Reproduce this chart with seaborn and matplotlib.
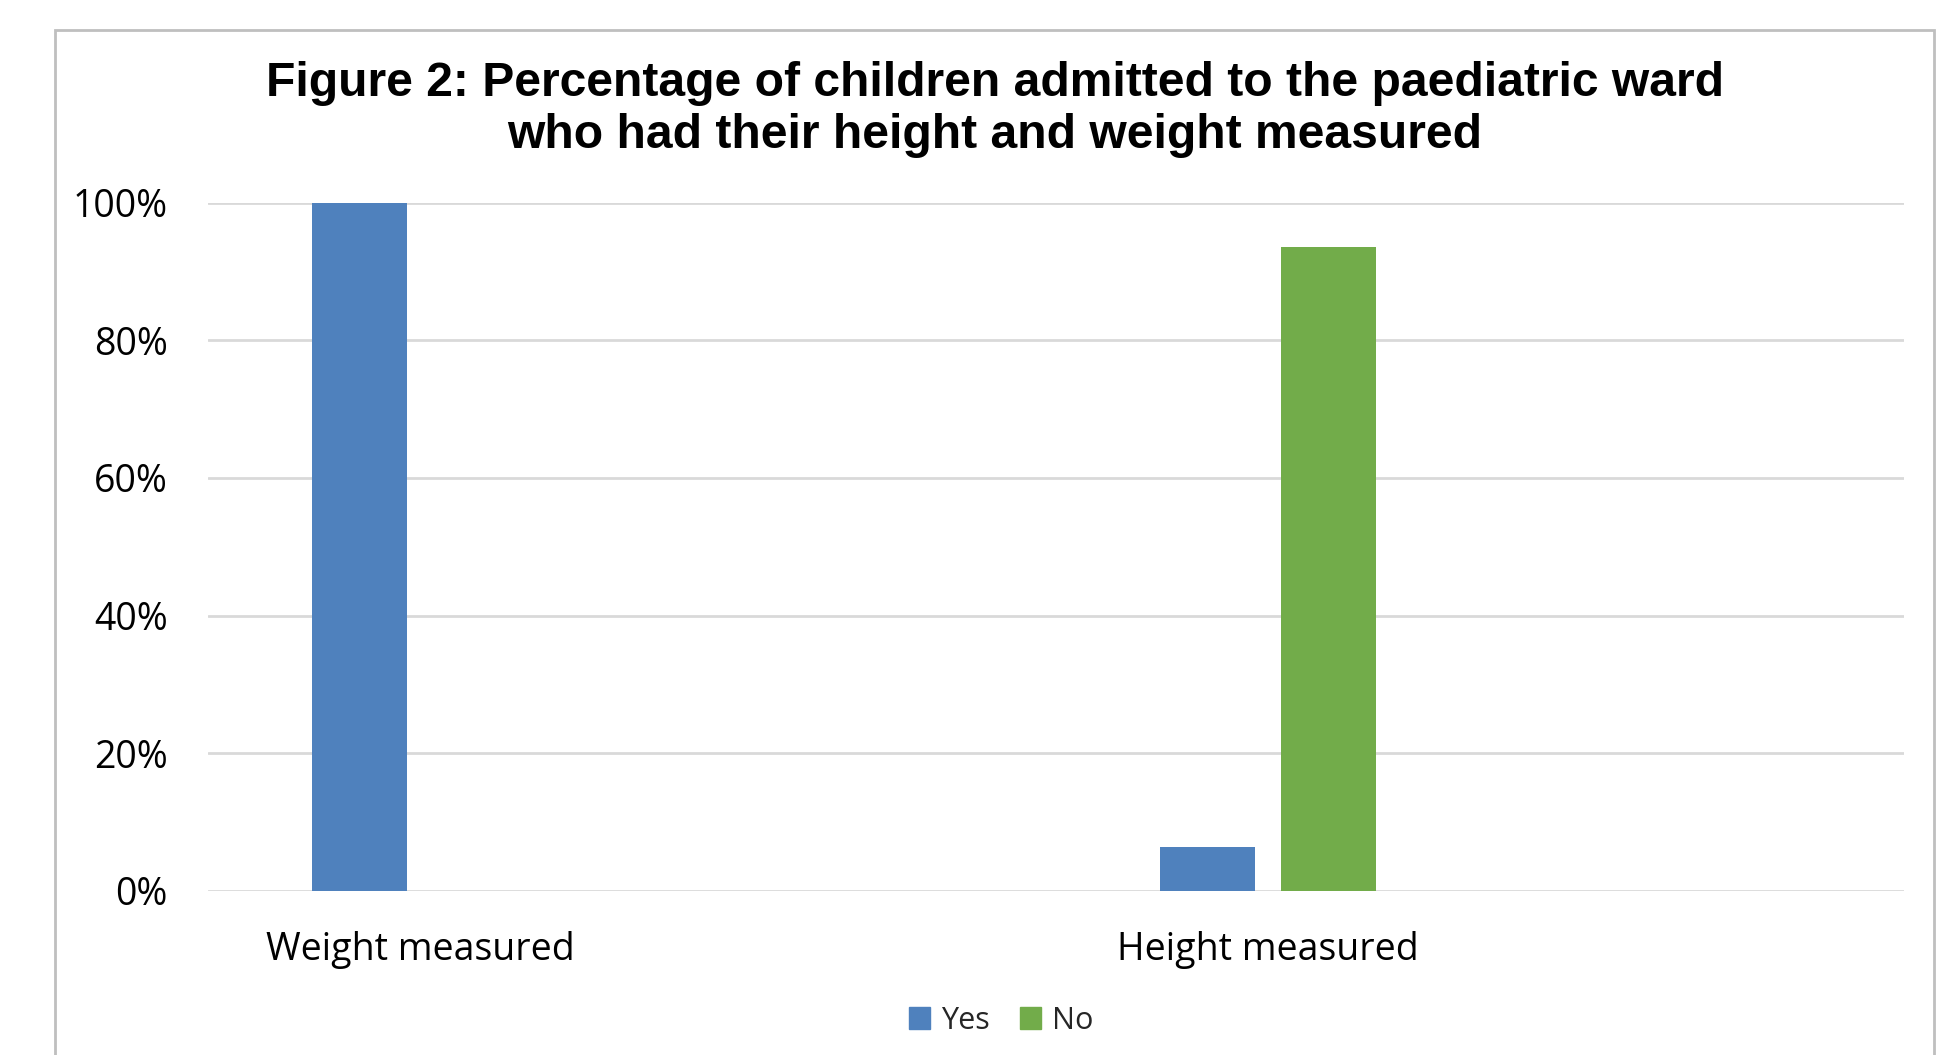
import pandas as pd
import numpy as np
import matplotlib.pyplot as plt
import seaborn as sns
from matplotlib.patches import Rectangle
from matplotlib.ticker import FuncFormatter

# ----- data -----
categories = ["Weight measured", "Height measured"]
responses = ["Yes", "No"]
yes_pct = [100.0, 6.4]
no_pct = [0.0, 93.6]
y_ticks = [0, 20, 40, 60, 80, 100]

title = ("Figure 2: Percentage of children admitted to the paediatric ward\n"
         "who had their height and weight measured")

df = pd.DataFrame({
    "Measure": categories * 2,
    "Response": ["Yes"] * len(categories) + ["No"] * len(categories),
    "Percent": yes_pct + no_pct,
})

sns.set_style("white")
plt.rcParams['font.family'] = ['Open Sans', 'DejaVu Sans']

fig = plt.figure(figsize=(19.6, 10.55), dpi=100)
ax = fig.add_axes([0.1061, 0.1559, 0.8653, 0.6517])

sns.barplot(data=df, x="Measure", y="Percent", hue="Response",
            hue_order=responses, order=categories,
            palette=["#4F81BD", "#72AC4A"], saturation=1,
            width=0.286, gap=0.215, errorbar=None, linewidth=0, ax=ax)

ax.set_xlim(-0.25, 1.75)
ax.set_ylim(0, 100)
ax.set_yticks(y_ticks)
ax.yaxis.set_major_formatter(FuncFormatter(lambda v, p: f"{v:.0f}%"))
ax.grid(axis="y", color="#D9D9D9", linewidth=2)
ax.set_axisbelow(True)
for s in ax.spines.values():
    s.set_visible(False)
ax.tick_params(axis="y", length=0, pad=29, labelsize=27, labelcolor="black")
ax.tick_params(axis="x", length=0, pad=29.5, labelsize=27, labelcolor="black")
ax.set_xlabel("")
ax.set_ylabel("")

# legend under the chart
ax.get_legend().remove()
handles = [Rectangle((0, 0), 1, 1, color=c) for c in ["#4F81BD", "#72AC4A"]]
fig.legend(handles, responses, loc="center", bbox_to_anchor=(0.5107, 0.0325),
           ncol=2, frameon=False, fontsize=22, handlelength=0.7,
           handleheight=0.7, handletextpad=0.35, columnspacing=1.0)

fig.text(0.5074, 0.8963, title, ha="center", va="center", fontsize=34.6,
         fontweight="bold", family=["Liberation Sans", "DejaVu Sans"],
         linespacing=1.22, color="black")

# outer chart frame
fig.patches.append(Rectangle((55 / 1960, -0.05), (1934 - 55) / 1960,
                             1 - 30 / 1055 + 0.05, transform=fig.transFigure,
                             fill=False, edgecolor="#BFBFBF", linewidth=2))

fig.savefig("out.png", dpi=100)
